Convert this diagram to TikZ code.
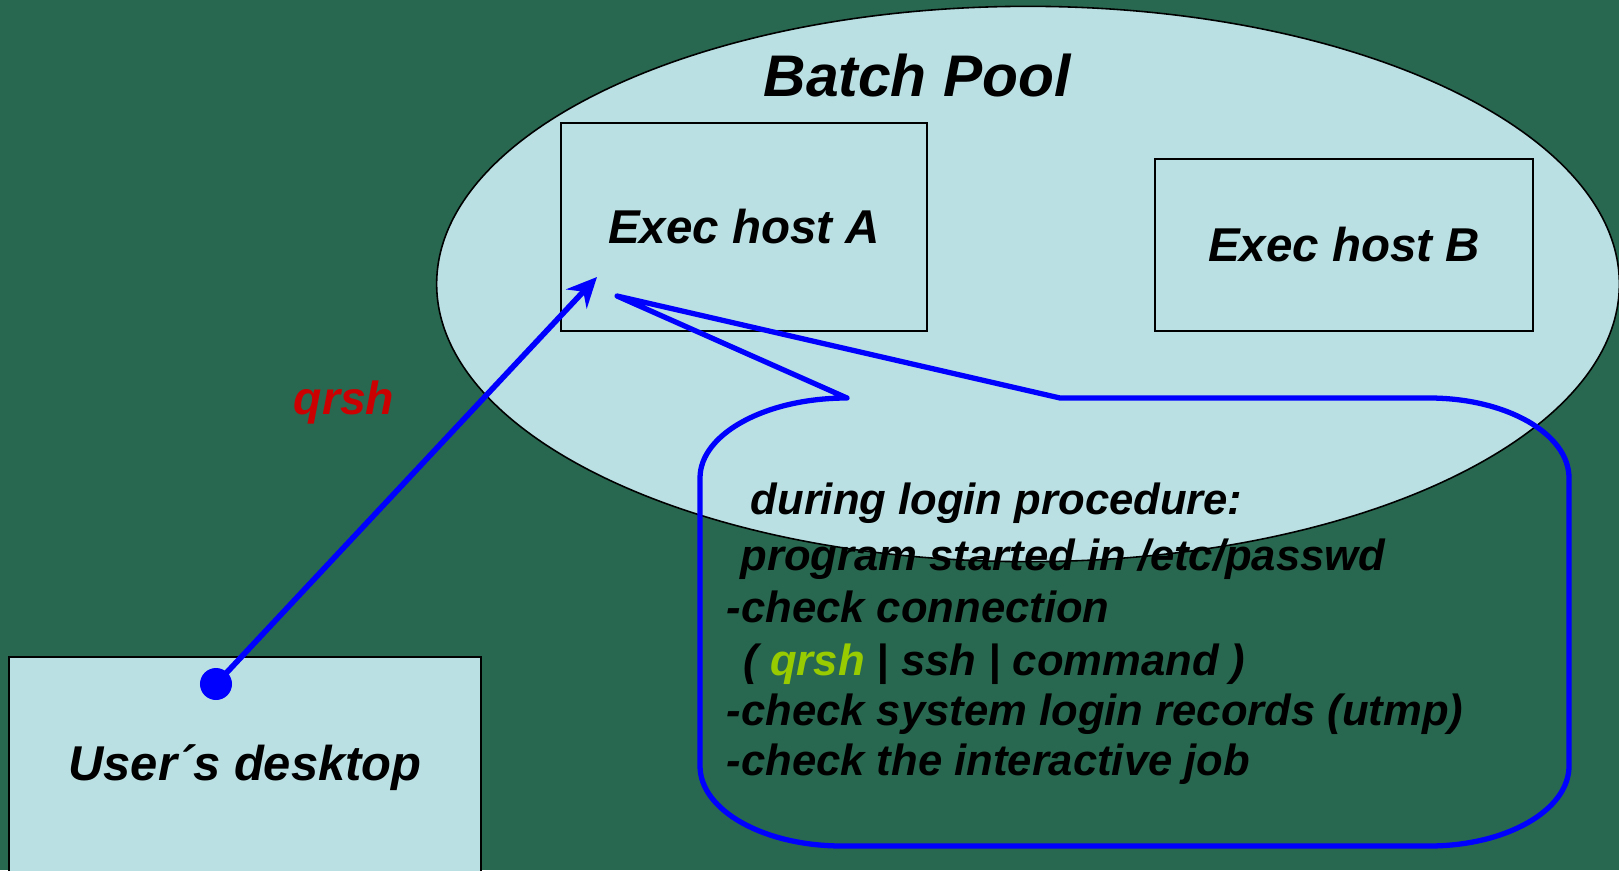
\documentclass[tikz,border=0pt]{standalone}
\usepackage{fontspec}
\setmainfont{Liberation Sans}
\usetikzlibrary{shapes.geometric, arrows.meta, positioning}
\definecolor{bggreen}{RGB}{41,104,80}
\definecolor{hostfill}{RGB}{186,224,227}
\definecolor{qred}{RGB}{204,0,0}
\definecolor{qgreen}{RGB}{153,204,0}

\begin{document}
\begin{tikzpicture}[
        x=0.01cm, y=-0.01cm,
        pool/.style={ellipse, draw=black, line width=0.45pt, fill=hostfill, minimum width=11.82cm, minimum height=5.55cm, inner sep=0pt},
        host/.style={rectangle, draw=black, line width=0.6pt, fill=hostfill, inner sep=0pt, align=center, font=\bfseries\itshape\fontsize{13.5}{16}\selectfont},
        title/.style={inner sep=0pt, font=\bfseries\itshape\fontsize{16.7}{20}\selectfont},
        note/.style={anchor=base west, inner sep=0pt, font=\bfseries\itshape\fontsize{12.4}{15}\selectfont},
        arrow/.style={draw=blue, line width=1.6pt, -{Stealth[length=0.3cm, width=0.28cm, inset=0.1cm]}},
        bubble/.style={draw=blue, line width=1.5pt, line join=round}
    ]

        % Page and background
        \useasboundingbox (0,0) rectangle (1619,870);
        \fill [bggreen] (0,0) rectangle (1619,870);

        % Batch pool with its hosts
        \node (pool) [pool] at (1028,284) {};
        \node (pooltitle) [title] at (917,76) {Batch Pool};
        \node (hostA) [host, minimum width=3.66cm, minimum height=2.07cm] at (744,227) {Exec host A};
        \node (hostB) [host, minimum width=3.78cm, minimum height=1.72cm] at (1344,245) {Exec host B};

        % Desktop
        \node (desktop) [host, minimum width=4.71cm, minimum height=2.22cm, font=\bfseries\itshape\fontsize{13.9}{16}\selectfont] at (245,768) {User´s desktop};
        \node (dot) [circle, fill=blue, inner sep=0pt, minimum size=0.32cm] at (216,684) {};
        \node (qrsh) [anchor=base, inner sep=0pt, text=qred, font=\bfseries\itshape\fontsize{13.2}{16}\selectfont] at (344,414) {qrsh};

        % Login arrow
        \coordinate (atip) at (597,277);
        \draw [arrow] (dot.center) -- (atip);

        % Callout
        \coordinate (ptip) at (617,296);
        \draw [bubble] (1060,398) -- (1429,398)
            arc [start angle=-90, end angle=0, x radius=140, y radius=80]
            -- (1569,766)
            arc [start angle=0, end angle=90, x radius=140, y radius=80]
            -- (842,846)
            arc [start angle=90, end angle=180, x radius=142, y radius=80]
            -- (700,478)
            arc [start angle=180, end angle=270, x radius=147, y radius=80]
            -- (ptip) -- cycle;

        \node (line1) [note] at (750,514) {during login procedure:};
        \node (line2) [note] at (740,570) {program started in /etc/passwd};
        \node (line3) [note] at (726,622) {-check connection};
        \node (line4) [note] at (743,675) {( {\color{qgreen}qrsh} | ssh | command )};
        \node (line5) [note] at (726,725) {-check system login records (utmp)};
        \node (line6) [note] at (726,775) {-check the interactive job};

    \end{tikzpicture}
\end{document}
